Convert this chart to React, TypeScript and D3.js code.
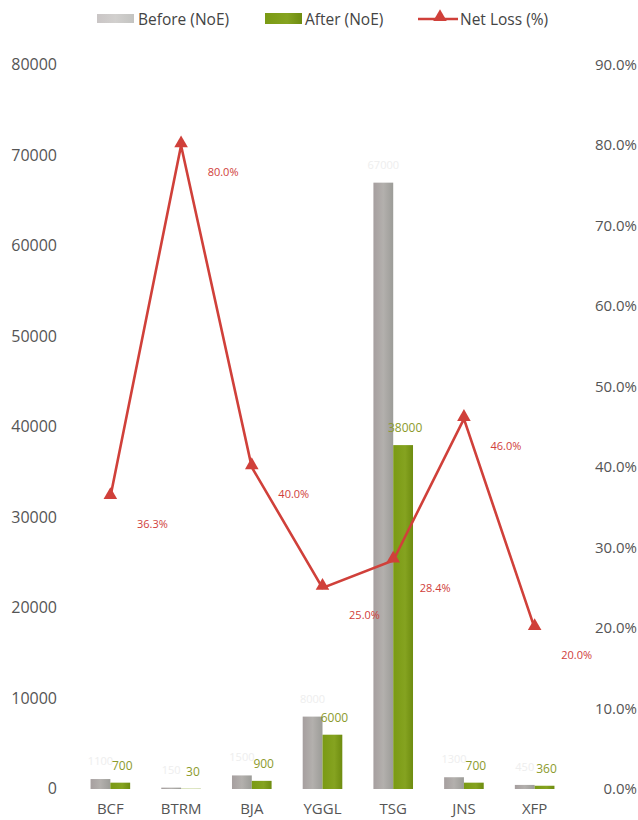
import React from "react";
import * as d3 from "d3";

const categories = ["BCF", "BTRM", "BJA", "YGGL", "TSG", "JNS", "XFP"];
const beforeValues = [1100, 150, 1500, 8000, 67000, 1300, 450];
const afterValues = [700, 30, 900, 6000, 38000, 700, 360];
const netLoss = [36.3, 80.0, 40.0, 25.0, 28.4, 46.0, 20.0];
const leftTicks = [0, 10000, 20000, 30000, 40000, 50000, 60000, 70000, 80000];
const rightTicks = [0, 10, 20, 30, 40, 50, 60, 70, 80, 90];

const W = 638;
const H = 820;
const FONT = "'Open Sans', 'Noto Sans', sans-serif";

export default function App() {
  const x = d3.scaleBand<string>().domain(categories).range([75, 570]).paddingInner(0.44).paddingOuter(0.22);
  const yL = d3.scaleLinear().domain([0, 80000]).range([789, 65]);
  const yR = d3.scaleLinear().domain([0, 90]).range([789, 65]);
  const bw = x.bandwidth() / 2;
  const cx = (c: string) => (x(c) as number) + x.bandwidth() / 2;

  const line = d3
    .line<number>()
    .x((_, i) => cx(categories[i]))
    .y((d) => yR(d));

  const tri = d3.symbol().type(d3.symbolTriangle).size(80)();

  return (
    <svg width={W} height={H} style={{ position: "absolute", left: 0, top: 0, background: "#fff" }} fontFamily={FONT}>
      <defs>
        <linearGradient id="gBefore" x1="0" x2="1" y1="0" y2="0">
          <stop offset="0%" stopColor="#a69f9f" />
          <stop offset="50%" stopColor="#b3b0ad" />
          <stop offset="100%" stopColor="#9c9c98" />
        </linearGradient>
        <linearGradient id="gAfter" x1="0" x2="1" y1="0" y2="0">
          <stop offset="0%" stopColor="#7a9a14" />
          <stop offset="60%" stopColor="#85a320" />
          <stop offset="100%" stopColor="#6e8c10" />
        </linearGradient>
      </defs>

      {/* Legend */}
      <g fontSize={15.5} fill="#444">
        <rect x={97} y={14} width={37} height={9} fill="url(#gBefore)" opacity={0.6} />
        <text x={138} y={25}>Before (NoE)</text>
        <rect x={265} y={13} width={37} height={11} fill="url(#gAfter)" />
        <text x={305} y={25}>After (NoE)</text>
        <line x1={418} x2={458} y1={19} y2={19} stroke="#d0403a" strokeWidth={2.5} />
        <path d={tri as string} transform="translate(440,17)" fill="#d0403a" />
        <text x={460} y={25}>Net Loss (%)</text>
      </g>

      {/* Left axis */}
      <g fontSize={16} fill="#555" textAnchor="end">
        {leftTicks.map((t) => (
          <text key={t} x={57} y={yL(t) + 5}>
            {t}
          </text>
        ))}
      </g>
      {/* Right axis */}
      <g fontSize={15} fill="#555" textAnchor="end">
        {rightTicks.map((t) => (
          <text key={t} x={637} y={yR(t) + 5}>
            {t.toFixed(1)}%
          </text>
        ))}
      </g>

      {/* Bars */}
      {categories.map((c, i) => {
        const x0 = x(c) as number;
        return (
          <g key={c}>
            <rect x={x0} y={yL(beforeValues[i])} width={bw} height={789 - yL(beforeValues[i])} fill="url(#gBefore)" />
            <rect x={x0 + bw} y={yL(afterValues[i])} width={bw} height={789 - yL(afterValues[i])} fill="url(#gAfter)" />
            <text x={x0 + bw / 2} y={yL(beforeValues[i]) - 14} fontSize={11} fill="#eeeeee" textAnchor="middle">
              {beforeValues[i]}
            </text>
            <text x={x0 + bw * 1.5 + 2} y={yL(afterValues[i]) - 13} fontSize={12} fill="#8c9a2c" textAnchor="middle">
              {afterValues[i]}
            </text>
          </g>
        );
      })}

      {/* Category labels */}
      <g fontSize={15} fill="#555" textAnchor="middle">
        {categories.map((c) => (
          <text key={c} x={cx(c)} y={814}>
            {c}
          </text>
        ))}
      </g>

      {/* Line */}
      <path d={line(netLoss) as string} fill="none" stroke="#d0403a" strokeWidth={2.6} />
      {netLoss.map((v, i) => (
        <g key={i}>
          <path d={tri as string} transform={`translate(${cx(categories[i])},${yR(v) - 2})`} fill="#d0403a" />
          <text x={cx(categories[i]) + 42} y={yR(v) + 31} fontSize={11} fill="#d0403a" textAnchor="middle">
            {v.toFixed(1)}%
          </text>
        </g>
      ))}
    </svg>
  );
}
